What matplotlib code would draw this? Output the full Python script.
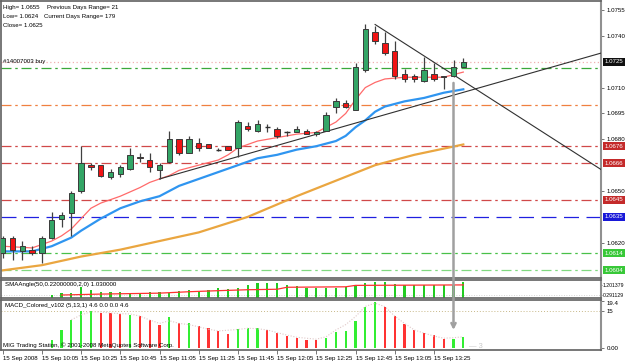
import matplotlib
matplotlib.use("Agg")
import matplotlib.pyplot as plt
from matplotlib.patches import Rectangle, ConnectionPatch
from matplotlib.transforms import blended_transform_factory

plt.rcParams['font.family'] = ['Liberation Sans', 'DejaVu Sans']

# 5 minute bars, 15 Sep 2008, 09:45 .. 13:40
opens  = [1.0614, 1.0623, 1.0615, 1.0616, 1.0614, 1.0623, 1.0634, 1.0637, 1.0650, 1.0665,
          1.0665, 1.0658, 1.0660, 1.0663, 1.0670, 1.0668, 1.0662, 1.0667, 1.0680, 1.0672,
          1.0678, 1.0677, 1.0674, 1.0676, 1.0675, 1.0688, 1.0685, 1.0687, 1.0686, 1.0684,
          1.0684, 1.0685, 1.0683, 1.0685, 1.0699, 1.0701, 1.0697, 1.0720, 1.0742, 1.0736,
          1.0731, 1.0718, 1.0717, 1.0714, 1.0718, 1.0717, 1.0717, 1.0722]
highs  = [1.0624, 1.0624, 1.0621, 1.0618, 1.0624, 1.0638, 1.0638, 1.0650, 1.0676, 1.0666,
          1.0665, 1.0663, 1.0665, 1.0675, 1.0672, 1.0672, 1.0666, 1.0685, 1.0680, 1.0682,
          1.0681, 1.0677, 1.0675, 1.0676, 1.0691, 1.0690, 1.0691, 1.0689, 1.0687, 1.0685,
          1.0688, 1.0686, 1.0685, 1.0696, 1.0704, 1.0703, 1.0724, 1.0747, 1.0746, 1.0742,
          1.0737, 1.0721, 1.0718, 1.0728, 1.0724, 1.0717, 1.0726, 1.0727]
lows   = [1.0611, 1.0610, 1.0610, 1.0613, 1.0608, 1.0622, 1.0629, 1.0624, 1.0649, 1.0662,
          1.0658, 1.0657, 1.0658, 1.0662, 1.0667, 1.0661, 1.0657, 1.0666, 1.0671, 1.0672,
          1.0673, 1.0675, 1.0673, 1.0674, 1.0670, 1.0685, 1.0684, 1.0684, 1.0681, 1.0682,
          1.0684, 1.0683, 1.0682, 1.0685, 1.0695, 1.0698, 1.0697, 1.0719, 1.0735, 1.0729,
          1.0715, 1.0713, 1.0713, 1.0713, 1.0714, 1.0709, 1.0716, 1.0722]
closes = [1.0623, 1.0616, 1.0618, 1.0614, 1.0623, 1.0633, 1.0636, 1.0649, 1.0666, 1.0664,
          1.0659, 1.0661, 1.0664, 1.0671, 1.0669, 1.0664, 1.0665, 1.0680, 1.0672, 1.0680,
          1.0675, 1.0675, 1.0674, 1.0674, 1.0690, 1.0686, 1.0689, 1.0687, 1.0682, 1.0684,
          1.0686, 1.0683, 1.0684, 1.0694, 1.0702, 1.0699, 1.0722, 1.0744, 1.0737, 1.0730,
          1.0717, 1.0715, 1.0715, 1.0720, 1.0715, 1.0716, 1.0722, 1.0725]

# moving averages (bar index, price)
ma_fast_idx = [0, 3, 4, 5, 6, 7, 8, 9, 10, 11, 12, 14, 15, 16, 17, 18, 20, 22, 23, 24,
               26, 28, 30, 32, 33, 34, 35, 36, 37, 38, 39, 41, 43, 45, 47]
ma_fast = [1.0618, 1.0617, 1.0619, 1.0621, 1.0624, 1.0628, 1.0634, 1.0640, 1.0643, 1.0645,
           1.0647, 1.0652, 1.0655, 1.0657, 1.0659, 1.0662, 1.0665, 1.0668, 1.0671, 1.0675,
           1.0679, 1.0681, 1.0683, 1.0684, 1.0687, 1.0690, 1.0695, 1.0703, 1.0710, 1.0713,
           1.0715, 1.0716, 1.0716, 1.0716, 1.0719]
ma_mid_idx = [0, 3, 5, 7, 8, 10, 12, 14, 16, 18, 20, 22, 24, 26, 28, 30, 32, 34, 35, 36,
              37, 38, 39, 41, 43, 45, 47]
ma_mid = [1.0615, 1.0615, 1.0618, 1.0623, 1.0627, 1.0634, 1.0640, 1.0644, 1.0647, 1.0653,
          1.0657, 1.0661, 1.0665, 1.0669, 1.0671, 1.0674, 1.0676, 1.0679, 1.0682, 1.0687,
          1.0691, 1.0696, 1.0699, 1.0702, 1.0704, 1.0707, 1.0709]
ma_slow_idx = [0, 4, 8, 12, 16, 20, 25, 30, 34, 38, 42, 47]
ma_slow = [1.0604, 1.0607, 1.0612, 1.0616, 1.0621, 1.0626, 1.0635, 1.0647, 1.0656, 1.0665,
           1.0671, 1.0677]

# horizontal levels: price, colour, style
levels = [1.0725, 1.07215, 1.0700, 1.0676, 1.0666, 1.0645, 1.0635, 1.0614, 1.0604]
level_colors = ['#f0b0b0', '#3aa83a', '#f08040', '#d04848', '#d04848', '#d04848',
                '#2020e0', '#48c048', '#80d880']
level_styles = [(0, (1, 2)), (0, (8, 3, 2, 3)), (0, (8, 3, 2, 3)), (0, (8, 3, 2, 3)),
                (0, (8, 3, 2, 3)), (0, (8, 3, 2, 3)), (0, (12, 6)), (0, (8, 3, 2, 3)),
                (0, (8, 3, 2, 3))]
box_prices = [1.0725, 1.0676, 1.0666, 1.0645, 1.0635, 1.0614, 1.0604]
box_colors = ['#101010', '#c42a2a', '#c42a2a', '#c42a2a', '#1818d8', '#38c838', '#38c838']
axis_prices = [1.0620, 1.0650, 1.0680, 1.0695, 1.0710, 1.0740, 1.0755]

# trend lines (bar index, price)
trend_up = ([16, 61.05], [1.0657, 1.0730])
trend_down = ([38, 61.05], [1.07466, 1.06625])

# SMAAngle histogram from bar 5
sma_start = 5
sma_vals = [0.35, 0.46, 0.51, 1.00, 0.73, 0.56, 0.56, 0.56, 0.51, 0.51, 0.56, 0.56, 0.51,
            0.68, 0.73, 0.62, 0.73, 0.93, 0.85, 0.95, 1.20, 1.33, 1.33, 1.33, 1.17, 1.12,
            0.91, 0.91, 0.91, 0.95, 1.02, 1.08, 1.33, 1.47, 1.39, 1.28, 1.20, 1.20, 1.20,
            1.20, 1.20, 1.20, 1.45]
sma_line_idx = [6, 10, 16, 19, 22, 25, 28, 29, 35, 36, 47]
sma_line = [0.32, 0.40, 0.48, 0.60, 0.69, 0.77, 0.81, 0.98, 1.02, 1.14, 1.18]

# MACD colored histogram from bar 5
macd_start = 5
macd_vals = [3.1, 7.2, 11.3, 15.1, 15.2, 14.3, 14.1, 13.8, 13.4, 13.1, 11.6, 9.3, 12.7,
             10.0, 10.0, 8.8, 7.9, 6.8, 5.8, 7.5, 8.1, 8.1, 7.2, 5.9, 4.8, 4.0, 3.2, 3.2,
             4.1, 6.5, 6.9, 11.0, 16.9, 18.8, 16.9, 13.0, 9.6, 7.3, 6.2, 5.1, 3.5, 3.7, 4.5]
macd_up = "gggggrrrgrrrgrgrrrrgggrrrrrrggggggrrrrrrrgg"
signal_start = 7
signal = [11.5, 13.5, 14.8, 14.7, 14.3, 14.0, 13.9, 13.0, 11.4, 10.0, 11.1, 10.0, 9.5, 8.6,
          7.6, 6.9, 7.2, 7.5, 8.0, 7.8, 7.3, 6.2, 5.2, 4.3, 3.9, 3.5, 4.5, 7.3, 9.5, 12.8,
          17.0, 18.3, 16.9, 13.0, 10.0, 7.3, 6.0, 4.8, 3.9, 4.1, 4.5]

tick_pos = list(range(0, 48, 4))
tick_labels = ["15 Sep 2008", "15 Sep 10:05", "15 Sep 10:25", "15 Sep 10:45",
               "15 Sep 11:05", "15 Sep 11:25", "15 Sep 11:45", "15 Sep 12:05",
               "15 Sep 12:25", "15 Sep 12:45", "15 Sep 13:05", "15 Sep 13:25"]

W, H = 625, 363
fs = 4.4
fig = plt.figure(figsize=(W / 100, H / 100), dpi=100)
fig.patch.set_facecolor('white')


def px_rect(x0, y0, x1, y1):
    return [x0 / W, 1 - y1 / H, (x1 - x0) / W, (y1 - y0) / H]


ax = fig.add_axes(px_rect(1, 1, 601, 278))
ax1 = fig.add_axes(px_rect(1, 279.5, 601, 297.5))
ax2 = fig.add_axes(px_rect(1, 300, 601, 350))

xlim = ((1 - 2.7) / 9.8, (601 - 2.7) / 9.8)
for a in (ax, ax1, ax2):
    a.set_xlim(*xlim)
    a.set_facecolor('white')
    for s in a.spines.values():
        s.set_color('#606060')
        s.set_linewidth(1.2)
    a.spines['right'].set_color('#909090')
    a.spines['right'].set_linewidth(1.5)
    a.yaxis.tick_right()
    a.tick_params(axis='y', length=2.5, width=0.6, color='#606060', labelsize=fs, pad=1.5)
    a.tick_params(axis='x', length=0, labelbottom=False)

ax.set_ylim(1.0755 - 268 * 0.000058, 1.0755 + 9 * 0.000058)
ax1.set_ylim(0.109, 1.641)
ax2.set_ylim(-0.95, 19.63)

# level lines
for p, c, ls in zip(levels, level_colors, level_styles):
    ax.axhline(p, color=c, lw=0.9, linestyle=ls, zorder=1)

# moving averages
ax.plot(ma_slow_idx, ma_slow, color='#eaa640', lw=1.6, zorder=2)
ax.plot(ma_mid_idx, ma_mid, color='#2f95f0', lw=1.6, zorder=2)
ax.plot(ma_fast_idx, ma_fast, color='#ff6a6a', lw=0.9, zorder=2)

# trend lines
ax.plot(*trend_up, color='#303030', lw=0.8, zorder=3)
ax.plot(*trend_down, color='#303030', lw=0.8, zorder=3)

# candles
bw = 0.55
for i, (o, h, l, c) in enumerate(zip(opens, highs, lows, closes)):
    ax.vlines(i, l, h, color='#404040', lw=0.9, zorder=4)
    if c == o:
        ax.hlines(o, i - bw / 2, i + bw / 2, color='#303030', lw=1.0, zorder=5)
        continue
    fc = '#33a566' if c > o else '#f01414'
    ax.add_patch(Rectangle((i - bw / 2, min(o, c)), bw, abs(c - o), facecolor=fc,
                           edgecolor='#3a3a3a', lw=0.7, zorder=5))

ax.set_yticks(axis_prices)
ax.set_yticklabels(["%.4f" % p for p in axis_prices])

bt = blended_transform_factory(ax.transAxes, ax.transData)
for p, c in zip(box_prices, box_colors):
    ax.text(1.006, p, "%.4f" % p, transform=bt, fontsize=fs, color='white', va='center',
            ha='left', zorder=10, clip_on=False,
            bbox=dict(boxstyle='square,pad=0.25', fc=c, ec='none'))

ax.text(0.004, 0.985, "High= 1.0655", transform=ax.transAxes, fontsize=fs, va='top')
ax.text(0.076, 0.985, "Previous Days Range= 21", transform=ax.transAxes, fontsize=fs, va='top')
ax.text(0.004, 0.952, "Low= 1.0624", transform=ax.transAxes, fontsize=fs, va='top')
ax.text(0.072, 0.952, "Current Days Range= 179", transform=ax.transAxes, fontsize=fs, va='top')
ax.text(0.004, 0.919, "Close= 1.0625", transform=ax.transAxes, fontsize=fs, va='top')
ax.text(0.004, 1.0725, "#14007003 buy", transform=bt, fontsize=fs, va='center')

# SMAAngle panel
sma_x = range(sma_start, sma_start + len(sma_vals))
ax1.bar(sma_x, sma_vals, width=0.22, color='#22cc22', zorder=2)
ax1.plot(sma_line_idx, sma_line, color='#ff3030', lw=0.9, zorder=3)
ax1.axhline(0.291129, color='#c8c8c8', lw=0.6, linestyle=(0, (1, 2)), zorder=1)
ax1.set_yticks([1.201379, 0.291129])
ax1.set_yticklabels(["1.201379", "0.291129"])
ax1.tick_params(axis='y', length=1, labelsize=3.7, pad=0.5)
ax1.text(0.006, 0.72, "SMAAngle(50,0.22000000,2,0) 1.030000", transform=ax1.transAxes,
         fontsize=fs, va='center')

# MACD panel
macd_x = range(macd_start, macd_start + len(macd_vals))
cols = ['#33ee33' if u == 'g' else '#ff3333' for u in macd_up]
ax2.bar(macd_x, macd_vals, width=0.22, color=cols, zorder=2)
ax2.plot(range(signal_start, signal_start + len(signal)), signal, color='#e0c8c8', lw=0.8,
         linestyle=(0, (1, 1.5)), zorder=3)
ax2.axhline(15, color='#c8b888', lw=0.7, linestyle=(0, (1, 2)), zorder=1)
ax2.set_yticks([19.4, 15, 0])
ax2.set_yticklabels(["19.4", "15", "0.00"])
ax2.get_yticklabels()[0].set_va('top')
ax2.text(0.006, 0.88, "MACD_Colored_v102 (5,13,1) 4.6 0.0 0.0 4.6", transform=ax2.transAxes,
         fontsize=fs, va='center')
ax2.text(0.004, 0.1, "MIG Trading Station, \u00a9 2001-2008 MetaQuotes Software Corp.",
         transform=ax2.transAxes, fontsize=fs, va='center')
ax2.text(47.6, 0.3, "\u2014 3", fontsize=fs + 1, color='#c8c8c8', va='center')

ax2.set_xticks(tick_pos)
ax2.set_xticklabels(tick_labels, ha='left')
ax2.tick_params(axis='x', length=3, width=0.6, color='#606060', labelbottom=True,
                labelsize=fs, pad=1)

# arrow from the last bars down into the MACD window
arr = ConnectionPatch(xyA=(46, 1.07127), coordsA=ax.transData, xyB=(46, 7.3),
                      coordsB=ax2.transData, arrowstyle='->,head_length=0.3,head_width=0.15',
                      color='#a0a0a0', lw=1.8, zorder=20)
fig.add_artist(arr)

fig.savefig('out.png', dpi=100)
